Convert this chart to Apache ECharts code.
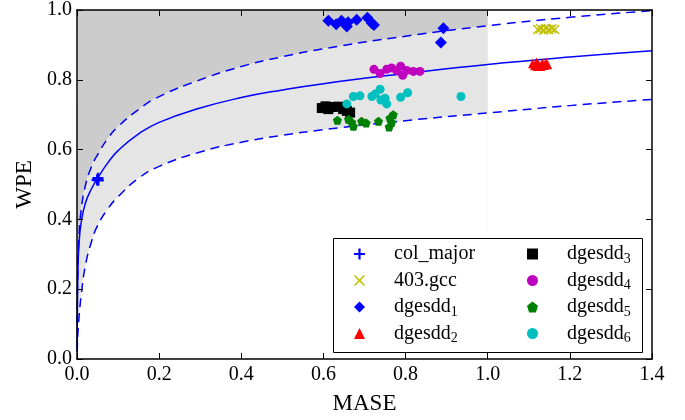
<!DOCTYPE html>
<html><head><meta charset="utf-8">
<script src="https://cdn.jsdelivr.net/npm/echarts@6/dist/echarts.min.js"></script>
<style>html,body{margin:0;padding:0;background:#fff}#c{width:685px;height:420px}</style>
</head><body><div id="c"></div>
<script>
// ---- data ----
const xTicks = [0.0, 0.2, 0.4, 0.6, 0.8, 1.0, 1.2, 1.4];
const yTicks = [0.0, 0.2, 0.4, 0.6, 0.8, 1.0];

const fitCurve = [[0.0003,0.03],[0.001,0.15],[0.0025,0.26],[0.005,0.33],[0.01,0.39],[0.02,0.445],[0.035,0.487],[0.05,0.518],[0.075,0.562],[0.1,0.597],[0.15,0.645],[0.2,0.678],[0.3,0.719],[0.4,0.749],[0.5,0.771],[0.6,0.789],[0.8,0.818],[1.0,0.844],[1.2,0.865],[1.4,0.883]];
const upperCurve = [[0.0005,0.10],[0.002,0.26],[0.005,0.355],[0.01,0.425],[0.02,0.495],[0.035,0.55],[0.05,0.585],[0.075,0.632],[0.1,0.666],[0.15,0.715],[0.2,0.752],[0.3,0.800],[0.4,0.838],[0.5,0.866],[0.6,0.889],[0.8,0.925],[1.0,0.955],[1.2,0.979],[1.4,0.998]];
const lowerCurve = [[0.0005,0.02],[0.002,0.07],[0.005,0.12],[0.01,0.18],[0.02,0.265],[0.035,0.335],[0.05,0.382],[0.075,0.43],[0.1,0.465],[0.15,0.518],[0.2,0.552],[0.3,0.593],[0.4,0.621],[0.5,0.641],[0.6,0.657],[0.8,0.683],[1.0,0.705],[1.2,0.726],[1.4,0.744]];
const shadeMaxX = 1.0;

const colMajor = [[0.049,0.513],[0.051,0.518],[0.052,0.512]];
const gcc403 = [[1.122,0.944],[1.129,0.946],[1.136,0.943],[1.142,0.947],[1.149,0.944],[1.156,0.946],[1.163,0.944]];
const dgesdd1 = [[0.612,0.969],[0.631,0.959],[0.644,0.969],[0.657,0.953],[0.660,0.965],[0.681,0.972],[0.707,0.978],[0.718,0.962],[0.723,0.957],[0.892,0.948],[0.886,0.907]];
const dgesdd2 = [[1.109,0.846],[1.114,0.840],[1.119,0.851],[1.124,0.843],[1.129,0.838],[1.133,0.848],[1.138,0.841],[1.142,0.850],[1.146,0.843],[1.121,0.838]];
const dgesdd3 = [[0.596,0.719],[0.605,0.724],[0.612,0.716],[0.622,0.722],[0.636,0.723],[0.648,0.716],[0.657,0.711],[0.665,0.706]];
const dgesdd4 = [[0.723,0.830],[0.738,0.818],[0.754,0.830],[0.766,0.834],[0.778,0.827],[0.788,0.839],[0.793,0.813],[0.803,0.827],[0.819,0.824],[0.835,0.824]];
const dgesdd5 = [[0.634,0.684],[0.661,0.687],[0.669,0.678],[0.673,0.667],[0.693,0.681],[0.704,0.676],[0.734,0.681],[0.762,0.690],[0.770,0.700],[0.766,0.678],[0.760,0.665]];
const dgesdd6 = [[0.657,0.731],[0.673,0.752],[0.689,0.754],[0.718,0.752],[0.726,0.759],[0.738,0.773],[0.740,0.742],[0.750,0.747],[0.754,0.731],[0.788,0.750],[0.805,0.763],[0.935,0.752]];

const legendCol1 = ['col_major','403.gcc','dgesdd1','dgesdd2'];
const legendCol2 = ['dgesdd3','dgesdd4','dgesdd5','dgesdd6'];
// ---------------------------------------

const FONT = 'Liberation Serif';
const PLUS = 'path://M4,0H6V4H10V6H6V10H4V6H0V4H4Z';
const CROSS = 'path://M0,1L1,0L5,4L9,0L10,1L6,5L10,9L9,10L5,6L1,10L0,9L4,5Z';
const PENTA = 'path://M5,0L10,3.8L8.1,10L1.9,10L0,3.8Z';

function legendFmt(name){
  const m = name.match(/^(dgesdd)(\d)$/);
  if (m) return '{sp| }' + m[1] + '{s|' + m[2] + '}';
  return '{sp| }' + name;
}
const legendText = {
  fontFamily: FONT, fontSize: 20, color: '#000', lineHeight: 24,
  rich: {
    sp: { width: 24, fontSize: 20, lineHeight: 24 },
    s: { fontFamily: FONT, fontSize: 14, lineHeight: 14, padding: [10,0,0,0], color:'#000' }
  }
};
const sub = a => a.filter(p => p[0] <= shadeMaxX);

const smoothOpt = { smooth: 0.5 };

function scatter(name, data, symbol, size, color){
  return { name, type:'scatter', data, symbol, symbolSize:size, itemStyle:{color, opacity:1}, z:5 };
}

const baseX = { type:'value', min:0, max:1.4, interval:0.2, z:10,
  axisLine:{show:true, onZero:false, lineStyle:{color:'#000', width:1.5}},
  axisTick:{show:true, inside:true, length:6, lineStyle:{color:'#000', width:1}},
  splitLine:{show:false} };
const baseY = { type:'value', min:0, max:1.0, interval:0.2, z:10,
  axisLine:{show:true, onZero:false, lineStyle:{color:'#000', width:1.5}},
  axisTick:{show:true, inside:true, length:6, lineStyle:{color:'#000', width:1}},
  splitLine:{show:false} };

const chart = echarts.init(document.getElementById('c'), null, {renderer:'canvas'});
chart.setOption({
  animation:false,
  backgroundColor:'#fff',
  grid:{left:77, right:33, top:9, bottom:58, containLabel:false},
  xAxis:[
    Object.assign({}, baseX, { position:'bottom',
      name:'MASE', nameLocation:'middle', nameGap:33,
      nameTextStyle:{fontFamily:FONT, fontSize:23, color:'#000'},
      axisLabel:{fontFamily:FONT, fontSize:20, color:'#000', margin:6, formatter:v=>v.toFixed(1)} }),
    Object.assign({}, baseX, { position:'top', axisLabel:{show:false} })
  ],
  yAxis:[
    Object.assign({}, baseY, { position:'left',
      name:'WPE', nameLocation:'middle', nameGap:40,
      nameTextStyle:{fontFamily:FONT, fontSize:23, color:'#000'},
      axisLabel:{fontFamily:FONT, fontSize:20, color:'#000', margin:5, formatter:v=>v.toFixed(1)} }),
    Object.assign({}, baseY, { position:'right', axisLabel:{show:false} })
  ],
  legend:[
    { data:legendCol1, orient:'vertical', left:354, top:242, padding:0, itemGap:2.5,
      itemWidth:11, itemHeight:11, formatter:legendFmt, textStyle:legendText, z:60, selectedMode:false,
      itemStyle:{borderWidth:0} },
    { data:legendCol2, orient:'vertical', left:527, top:242, padding:0, itemGap:2.5,
      itemWidth:11, itemHeight:11, formatter:legendFmt, textStyle:legendText, z:60, selectedMode:false,
      itemStyle:{borderWidth:0} }
  ],
  graphic:[
    { type:'rect', left:333, top:238, z:55, shape:{width:309, height:114},
      style:{fill:'#fff', stroke:'#000', lineWidth:1} }
  ],
  series:[
    // shaded regions
    Object.assign({ type:'line', data:sub(upperCurve), showSymbol:false, silent:true, z:1,
      lineStyle:{width:0}, areaStyle:{origin:'end', color:'#cccccc', opacity:1} }, smoothOpt),
    Object.assign({ type:'line', data:sub(upperCurve), showSymbol:false, silent:true, z:1,
      lineStyle:{width:0}, areaStyle:{origin:'start', color:'#e5e5e5', opacity:1} }, smoothOpt),
    Object.assign({ type:'line', data:sub(lowerCurve), showSymbol:false, silent:true, z:1,
      lineStyle:{width:0}, areaStyle:{origin:'start', color:'#ffffff', opacity:1} }, smoothOpt),
    // curves
    Object.assign({ type:'line', data:fitCurve, showSymbol:false, silent:true, z:3,
      lineStyle:{color:'#0000ff', width:1.5} }, smoothOpt),
    Object.assign({ type:'line', data:upperCurve, showSymbol:false, silent:true, z:3,
      lineStyle:{color:'#0000ff', width:1.5, type:[9,6]} }, smoothOpt),
    Object.assign({ type:'line', data:lowerCurve, showSymbol:false, silent:true, z:3,
      lineStyle:{color:'#0000ff', width:1.5, type:[9,6]} }, smoothOpt),
    // points
    scatter('col_major', colMajor, PLUS, 11, '#0000ff'),
    scatter('403.gcc', gcc403, CROSS, 10, '#bfbf00'),
    scatter('dgesdd1', dgesdd1, 'diamond', 12, '#0000ff'),
    scatter('dgesdd2', dgesdd2, 'triangle', 9, '#ff0000'),
    scatter('dgesdd3', dgesdd3, 'rect', 10, '#000000'),
    scatter('dgesdd4', dgesdd4, 'circle', 9, '#bf00bf'),
    scatter('dgesdd5', dgesdd5, PENTA, 9, '#008000'),
    scatter('dgesdd6', dgesdd6, 'circle', 9, '#00bfbf')
  ]
});
</script>
</body></html>
